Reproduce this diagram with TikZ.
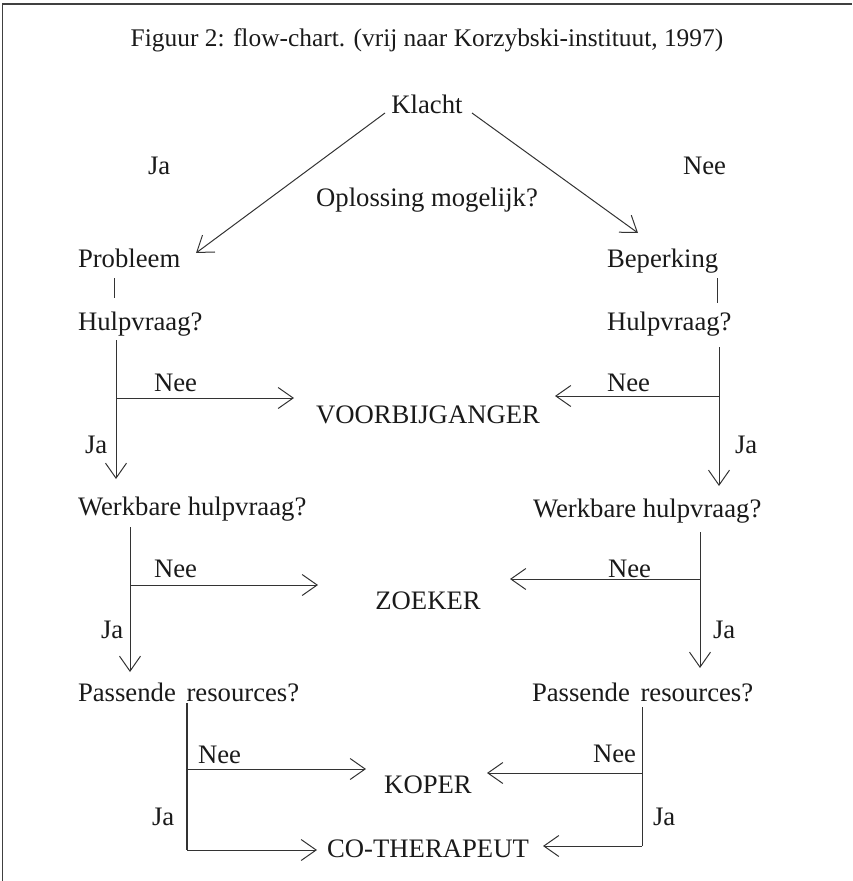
\documentclass[tikz,border=0pt]{standalone}
\usepackage{fontspec}
\setmainfont{Liberation Serif}
\usetikzlibrary{arrows.meta}
\definecolor{ink}{HTML}{1A1A1A}
\definecolor{linec}{HTML}{333333}
\tikzset{
  lbl/.style={inner sep=0pt, outer sep=0pt, anchor=base west, text=ink, font=\fontsize{26.7}{32}\selectfont},
  ctr/.style={lbl, anchor=base},
  conn/.style={draw=linec, line width=1pt},
  arr/.style={conn, -{Straight Barb[length=15pt,width=21pt]}},
  frame/.style={draw=black!75, line width=1.6pt}
}
\begin{document}
\begin{tikzpicture}[x=1pt,y=-1pt]
\useasboundingbox (0,0) rectangle (852,881);
\draw[frame] (2.5,881) -- (2.5,3.8) -- (852,3.8);

% texts
\node[ctr, font=\fontsize{25.4}{30}\selectfont] (title) at (427,46) {Figuur 2: flow-chart. (vrij naar Korzybski-instituut, 1997)};
\node[ctr] (klacht) at (427,113) {Klacht};
\node[lbl] (ja0) at (148,174) {Ja};
\node[lbl] (nee0) at (683,174) {Nee};
\node[ctr] (opl) at (427,206) {Oplossing mogelijk?};
\node[lbl] (prob) at (78,267) {Probleem};
\node[lbl] (bep) at (607,267) {Beperking};
\node[lbl] (hvL) at (78,330) {Hulpvraag?};
\node[lbl] (hvR) at (607,330) {Hulpvraag?};
\node[lbl] (neeL1) at (154,391) {Nee};
\node[lbl] (jaL1) at (85,453) {Ja};
\node[lbl] (neeR1) at (607,391) {Nee};
\node[lbl] (jaR1) at (735,453) {Ja};
\node[ctr] (voor) at (428,423) {VOORBIJGANGER};
\node[lbl] (wkL) at (78,515) {Werkbare hulpvraag?};
\node[lbl] (wkR) at (533,517) {Werkbare hulpvraag?};
\node[lbl] (neeL2) at (154,577) {Nee};
\node[lbl] (jaL2) at (101,638) {Ja};
\node[lbl] (neeR2) at (608,577) {Nee};
\node[lbl] (jaR2) at (713,638) {Ja};
\node[ctr] (zoek) at (428,609) {ZOEKER};
\node[lbl] (psL) at (78,701) {Passende\hspace{0.4em}resources?};
\node[lbl] (psR) at (532,701) {Passende\hspace{0.4em}resources?};
\node[lbl] (neeL3) at (198,763) {Nee};
\node[lbl] (jaL3) at (152,825) {Ja};
\node[lbl] (neeR3) at (593,762) {Nee};
\node[lbl] (jaR3) at (653,825) {Ja};
\node[ctr] (koper) at (428,793) {KOPER};
\node[ctr] (cot) at (428,857) {CO-THERAPEUT};

% connector end points
\coordinate (kA) at (385,113);
\coordinate (kB) at (196,253);
\coordinate (kC) at (472,113);
\coordinate (kD) at (638,233);
\coordinate (pL1) at (114,278);
\coordinate (pL2) at (114,298);
\coordinate (pR1) at (717,278);
\coordinate (pR2) at (717,303);
\coordinate (a1) at (116,340);
\coordinate (a2) at (116,479);
\coordinate (a3) at (116,398);
\coordinate (a4) at (294,398);
\coordinate (b1) at (719,347);
\coordinate (b2) at (719,486);
\coordinate (b3) at (719,396);
\coordinate (b4) at (555,396);
\coordinate (c1) at (130,527);
\coordinate (c2) at (130,672);
\coordinate (c3) at (130,585);
\coordinate (c4) at (318,585);
\coordinate (d1) at (700,532);
\coordinate (d2) at (700,668);
\coordinate (d3) at (700,579);
\coordinate (d4) at (510,579);
\coordinate (e1) at (187,703);
\coordinate (e2) at (187,850);
\coordinate (e3) at (187,769);
\coordinate (e4) at (366,769);
\coordinate (e5) at (317,850);
\coordinate (f1) at (642,707);
\coordinate (f2) at (642,846);
\coordinate (f3) at (642,773);
\coordinate (f4) at (487,773);
\coordinate (f5) at (543,846);

% connectors
\draw[arr] (kA) -- (kB);
\draw[arr] (kC) -- (kD);
\draw[conn] (pL1) -- (pL2);
\draw[conn] (pR1) -- (pR2);
\draw[arr] (a1) -- (a2);
\draw[arr] (a3) -- (a4);
\draw[arr] (b1) -- (b2);
\draw[arr] (b3) -- (b4);
\draw[arr] (c1) -- (c2);
\draw[arr] (c3) -- (c4);
\draw[arr] (d1) -- (d2);
\draw[arr] (d3) -- (d4);
\draw[conn, line width=1.8pt] (e1) -- (e2);
\draw[arr] (e3) -- (e4);
\draw[arr] (e2) -- (e5);
\draw[conn] (f1) -- (f2);
\draw[arr] (f3) -- (f4);
\draw[arr] (f2) -- (f5);
\end{tikzpicture}
\end{document}
